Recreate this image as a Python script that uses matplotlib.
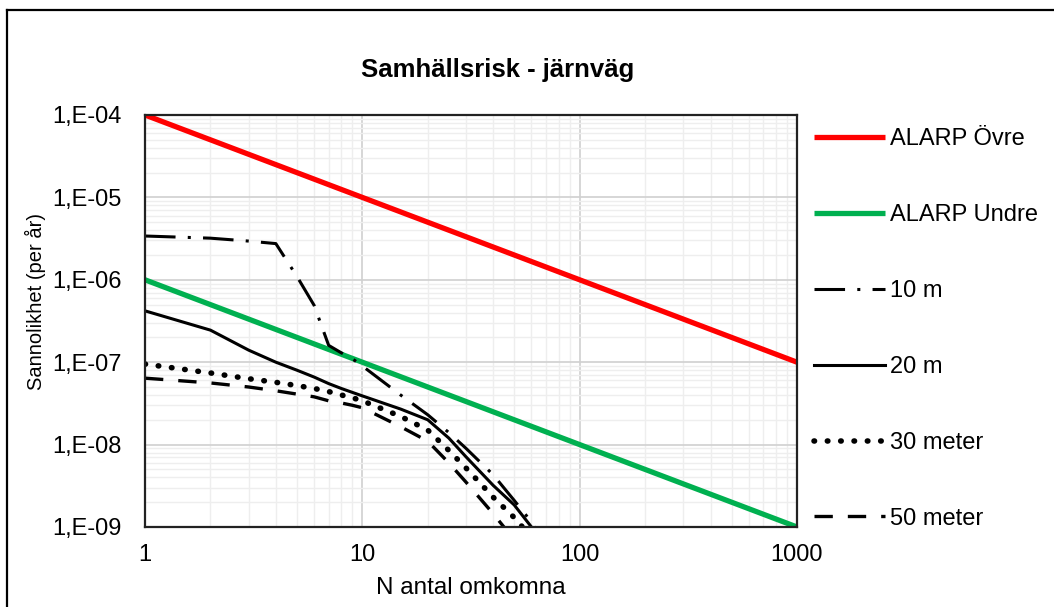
import numpy as np
import matplotlib
matplotlib.use("Agg")
import matplotlib.pyplot as plt
from matplotlib.lines import Line2D
from matplotlib.ticker import FixedLocator, LogLocator, NullFormatter

plt.rcParams['font.family'] = ['Liberation Sans', 'DejaVu Sans']

# number of fatalities (N) and frequency per year
n_alarp = [1, 1000]
alarp_ovre = [1e-4, 1e-7]
alarp_undre = [1e-6, 1e-9]

n_vals = [1, 2, 3, 4, 5, 6, 7, 8, 9, 10, 15, 20, 25, 30, 40, 50, 60, 70, 80]
risk_10m = [3.4e-6, 3.2e-6, 2.95e-6, 2.75e-6, 1.1e-6, 4.9e-7, 1.6e-7, 1.3e-7, 1.1e-7, 9.0e-8,
            4.0e-8, 2.3e-8, 1.4e-8, 9.0e-9, 4.3e-9, 2.1e-9, 1.15e-9, 6e-10, 3e-10]
risk_20m = [4.2e-7, 2.45e-7, 1.4e-7, 1.0e-7, 8.0e-8, 6.6e-8, 5.5e-8, 4.8e-8, 4.3e-8, 3.9e-8,
            2.7e-8, 2.0e-8, 1.2e-8, 7.1e-9, 3.2e-9, 1.85e-9, 1.0e-9, 5.5e-10, 3e-10]
risk_30m = [9.5e-8, 7.4e-8, 6.3e-8, 5.7e-8, 5.2e-8, 4.8e-8, 4.4e-8, 4.0e-8, 3.7e-8, 3.4e-8,
            2.2e-8, 1.5e-8, 8.5e-9, 5.2e-9, 2.3e-9, 1.3e-9, 7.5e-10, 4e-10, 2e-10]
risk_50m = [6.4e-8, 5.6e-8, 5.0e-8, 4.5e-8, 4.1e-8, 3.8e-8, 3.4e-8, 3.2e-8, 3.0e-8, 2.8e-8,
            1.65e-8, 1.1e-8, 6e-9, 3.5e-9, 1.45e-9, 7e-10, 4e-10, 2e-10, 1e-10]

x_ticks = [1, 10, 100, 1000]
x_labels = ["1", "10", "100", "1000"]
y_ticks = [1e-9, 1e-8, 1e-7, 1e-6, 1e-5, 1e-4]
y_labels = ["1,E-09", "1,E-08", "1,E-07", "1,E-06", "1,E-05", "1,E-04"]

fs = 17

fig = plt.figure(figsize=(10.54, 6.07), dpi=100)
ax = fig.add_axes([145/1054, 1-527/607, (797-145)/1054, (527-115)/607])

ax.plot(n_alarp, alarp_ovre, color="#FF0000", lw=3.8, label="ALARP Övre", solid_capstyle="butt")
ax.plot(n_alarp, alarp_undre, color="#00B050", lw=3.8, label="ALARP Undre", solid_capstyle="butt")
ax.plot(n_vals, risk_10m, color="black", lw=2.2, linestyle=(0, (10, 4, 1, 4)), label="10 m")
ax.plot(n_vals, risk_20m, color="black", lw=2.2, label="20 m")
ax.plot(n_vals, risk_30m, color="black", lw=4.0, linestyle=(0, (0.1, 2.3)),
        dash_capstyle="round", label="30 meter")
ax.plot(n_vals, risk_50m, color="black", lw=2.4, linestyle=(0, (5.5, 4.5)), label="50 meter")

ax.set_xscale("log")
ax.set_yscale("log")
ax.set_xlim(1, 1000)
ax.set_ylim(1e-9, 1e-4)
ax.xaxis.set_major_locator(FixedLocator(x_ticks))
ax.set_xticklabels(x_labels)
ax.yaxis.set_major_locator(FixedLocator(y_ticks))
ax.set_yticklabels(y_labels)
ax.xaxis.set_minor_locator(LogLocator(base=10, subs=np.arange(2, 10)))
ax.yaxis.set_minor_locator(LogLocator(base=10, subs=np.arange(2, 10)))
ax.xaxis.set_minor_formatter(NullFormatter())
ax.yaxis.set_minor_formatter(NullFormatter())
ax.tick_params(which="both", length=0, labelsize=fs)
ax.tick_params(axis="y", pad=17)
ax.tick_params(axis="x", pad=12)

ax.grid(which="major", color="#D0D0D0", lw=1.2)
ax.grid(which="minor", color="#EEEEEE", lw=1)
ax.set_axisbelow(True)
for s in ax.spines.values():
    s.set_color("#222222")
    s.set_linewidth(1.6)

ax.set_xlabel("N antal omkomna", fontsize=17.5, labelpad=8)
fig.text(35/1054, 1-302/607, "Sannolikhet (per år)", fontsize=14.5, rotation=90,
         ha="center", va="center")

fig.text(498/1054, 1-70/607, "Samhällsrisk - järnväg", fontsize=18.5, fontweight="bold",
         ha="center", va="center")

fig.legend(loc="upper left", bbox_to_anchor=(805/1054, 1-119/607), frameon=False,
           fontsize=fs, handlelength=3.0, handletextpad=0.2, labelspacing=2.28,
           borderaxespad=0)

# outer chart frame
fig.add_artist(Line2D([7/1054, 1], [1-10/607, 1-10/607], transform=fig.transFigure,
                      color="black", lw=1.6))
fig.add_artist(Line2D([7/1054, 7/1054], [0, 1-10/607], transform=fig.transFigure,
                      color="black", lw=1.6))

fig.savefig("out.png", dpi=100)
